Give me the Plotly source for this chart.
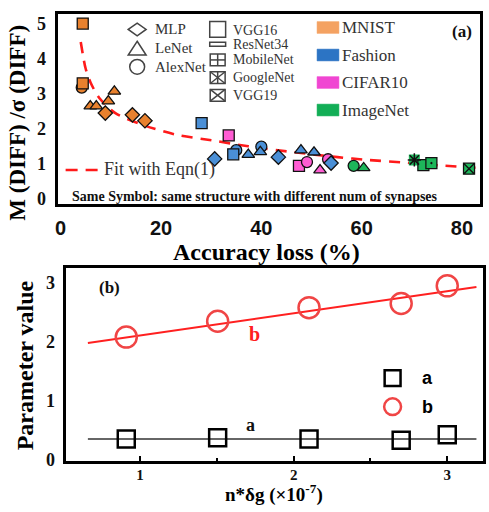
import plotly.graph_objects as go

# ---------------- data: panel (a) ----------------
sym_map = {'MLP': 'diamond', 'LeNet': 'triangle-up', 'AlexNet': 'circle', 'VGG16': 'square',
           'MobileNet': 'square-dot', 'VGG19': 'square-x', 'GoogleNet': 'square'}

mnist_arch = ['AlexNet', 'VGG16', 'VGG16', 'LeNet', 'LeNet', 'LeNet', 'LeNet', 'MLP', 'MLP', 'MLP']
mnist_x = [4.2, 4.4, 4.4, 5.9, 7.1, 9.5, 10.7, 8.9, 14.3, 16.8]
mnist_y = [3.17, 3.29, 5.0, 2.64, 2.64, 2.78, 3.06, 2.44, 2.39, 2.22]

cifar_arch = ['VGG16', 'VGG16', 'AlexNet', 'LeNet', 'AlexNet']
cifar_x = [33.5, 47.5, 49.1, 51.7, 53.3]
cifar_y = [1.80, 0.93, 1.04, 0.81, 1.12]

fashion_arch = ['VGG16', 'MLP', 'AlexNet', 'VGG16', 'LeNet', 'AlexNet', 'LeNet', 'MLP', 'LeNet', 'LeNet', 'MLP']
fashion_x = [28.1, 30.7, 35.0, 34.4, 37.4, 40.0, 39.8, 43.4, 47.9, 50.5, 53.9]
fashion_y = [2.15, 1.13, 1.38, 1.26, 1.25, 1.48, 1.33, 1.18, 1.38, 1.32, 1.01]

imagenet_arch = ['AlexNet', 'LeNet', 'GoogleNet', 'VGG16', 'MobileNet', 'VGG19']
imagenet_x = [58.4, 60.4, 70.5, 72.3, 73.9, 81.4]
imagenet_y = [0.93, 0.87, 1.10, 0.95, 1.01, 0.85]

fit_x = [4.0, 4.5, 5.0, 6.0, 7.7, 10.9, 16.2, 22.8, 30.1, 37.4, 46.5, 55.2, 61.2, 69.1, 74.0, 83.6]
fit_y = [4.47, 4.05, 3.70, 3.30, 2.87, 2.44, 2.11, 1.83, 1.66, 1.49, 1.32, 1.18, 1.10, 1.02, 0.96, 0.87]

x_ticks_a = [0, 20, 40, 60, 80]
y_ticks_a = [0, 1, 2, 3, 4, 5]

# ---------------- data: panel (b) ----------------
param_x = [0.91, 1.505, 2.10, 2.70, 3.0]
a_vals = [0.35, 0.37, 0.35, 0.33, 0.42]
b_vals = [2.08, 2.35, 2.58, 2.65, 2.95]
fitline_x = [0.66, 3.19]
a_fit = [0.35, 0.35]
b_fit = [1.98, 2.93]
x_ticks_b = [1, 2, 3]
y_ticks_b = [0, 1, 2, 3]

W, H = 489, 512
SERIF = 'Liberation Serif'
SANS = 'Liberation Sans'

colors = {'MNIST': '#E8812E', 'Fashion': '#4A8FD6', 'CIFAR10': '#FF5CD3', 'ImageNet': '#1DB65A'}
swatch = {'MNIST': '#F4A262', 'Fashion': '#2C74C4', 'CIFAR10': '#F046D2', 'ImageNet': '#12AE56'}


def PX(px):
    return px / W


def PY(py):
    return 1 - py / H


fig = go.Figure()

# fit curve
fig.add_trace(go.Scatter(x=fit_x, y=fit_y, mode='lines', line=dict(color='#FF1A1A', width=2.6, dash='11px,8px', shape='spline', smoothing=0.8),
                         xaxis='x', yaxis='y', showlegend=False, hoverinfo='skip'))

for name, arch, xs, ys in [('MNIST', mnist_arch, mnist_x, mnist_y), ('CIFAR10', cifar_arch, cifar_x, cifar_y),
                           ('Fashion', fashion_arch, fashion_x, fashion_y), ('ImageNet', imagenet_arch, imagenet_x, imagenet_y)]:
    lw = [0 if a == 'GoogleNet' else 1.3 for a in arch]
    fig.add_trace(go.Scatter(x=xs, y=ys, mode='markers', xaxis='x', yaxis='y', showlegend=False,
                             marker=dict(symbol=[sym_map[a] for a in arch], size=11, color=colors[name],
                                         line=dict(color='#111', width=lw))))
    g = [i for i, a in enumerate(arch) if a == 'GoogleNet']
    if g:
        fig.add_trace(go.Scatter(x=[xs[i] for i in g], y=[ys[i] for i in g], mode='markers', xaxis='x', yaxis='y',
                                 showlegend=False, marker=dict(symbol='asterisk-open', size=11, color='#111',
                                                               line=dict(color='#111', width=1.5))))

# panel (b)
fig.add_trace(go.Scatter(x=fitline_x, y=a_fit, mode='lines', line=dict(color='#333', width=1.6), xaxis='x2', yaxis='y2', showlegend=False))
fig.add_trace(go.Scatter(x=fitline_x, y=b_fit, mode='lines', line=dict(color='#FF2020', width=2), xaxis='x2', yaxis='y2', showlegend=False))
fig.add_trace(go.Scatter(x=param_x, y=a_vals, mode='markers', xaxis='x2', yaxis='y2', showlegend=False,
                         marker=dict(symbol='square-open', size=17, line=dict(color='#000', width=2.5), color='#000')))
fig.add_trace(go.Scatter(x=param_x, y=b_vals, mode='markers', xaxis='x2', yaxis='y2', showlegend=False,
                         marker=dict(symbol='circle-open', size=21, line=dict(color='#F04545', width=2.5), color='#F04545')))

shapes = []
ann = []


def rect(cx, cy, w, h, line='#444', lw=1.5, fill='rgba(0,0,0,0)'):
    shapes.append(dict(type='rect', xref='paper', yref='paper', x0=PX(cx - w / 2), x1=PX(cx + w / 2),
                       y0=PY(cy + h / 2), y1=PY(cy - h / 2), line=dict(color=line, width=lw), fillcolor=fill))


def path(pts, close=True, line='#444', lw=1.5):
    d = 'M ' + ' L '.join(f'{PX(x):.5f},{PY(y):.5f}' for x, y in pts)
    if close:
        d += ' Z'
    shapes.append(dict(type='path', xref='paper', yref='paper', path=d, line=dict(color=line, width=lw)))


def text(s, cx, cy, size, family=SERIF, color='#333', weight='normal', xanchor='left', angle=0):
    ann.append(dict(text=s, x=PX(cx), y=PY(cy), xref='paper', yref='paper', xanchor=xanchor, yanchor='middle',
                    showarrow=False, textangle=angle, font=dict(family=family, size=size, color=color, weight=weight)))


# symbol legend, column 1
path([(126, 30), (135, 23.5), (144, 30), (135, 36.5)])
path([(135, 42), (144, 56), (126, 56)])
shapes.append(dict(type='circle', xref='paper', yref='paper', x0=PX(127.5), x1=PX(142.5), y0=PY(75.5), y1=PY(60.5),
                   line=dict(color='#444', width=1.5)))
for s, y in [('MLP', 30), ('LeNet', 49), ('AlexNet', 68)]:
    text(s, 151, y, 15)
# column 2
rect(216, 30, 16, 16)
rect(216, 45, 16, 4)
rect(216, 61, 15, 12)
path([(208.5, 61), (223.5, 61)], close=False)
path([(216, 55), (216, 67)], close=False)
rect(216, 79, 15, 12)
path([(208.5, 73), (223.5, 85)], close=False)
path([(208.5, 85), (223.5, 73)], close=False)
path([(216, 73), (216, 85)], close=False)
rect(216, 97, 15, 12)
path([(208.5, 91), (223.5, 103)], close=False)
path([(208.5, 103), (223.5, 91)], close=False)
for s, y in [('VGG16', 31), ('ResNet34', 45.5), ('MobileNet', 61), ('GoogleNet', 79), ('VGG19', 97)]:
    text(s, 229, y, 14)
# colour legend
for name, y in [('MNIST', 28), ('Fashion', 56), ('CIFAR10', 84), ('ImageNet', 112)]:
    rect(327, y, 22, 12, line=swatch[name], lw=0.5, fill=swatch[name])
    text(name, 339, y, 17)
# fit legend
shapes.append(dict(type='line', xref='paper', yref='paper', x0=PX(63), x1=PX(96), y0=PY(173), y1=PY(173),
                   line=dict(color='#FF1A1A', width=2.6, dash='12px,8px')))
text('Fit with Eqn(1)', 100, 173, 18)
text('Same Symbol: same structure with different num of synapses', 254, 200, 14, color='#111', weight='bold', xanchor='center')
text('(a)', 462, 32, 17, color='#111', weight='bold', xanchor='center')

# panel (b) legend and labels
rect(392, 385, 16, 16, line='#000', lw=2.5)
shapes.append(dict(type='circle', xref='paper', yref='paper', x0=PX(383.5), x1=PX(400.5), y0=PY(422.5), y1=PY(405.5),
                   line=dict(color='#F04545', width=2.5)))
text('a', 427, 385, 18, family=SANS, color='#000', weight='bold', xanchor='center')
text('b', 427, 414, 18, family=SANS, color='#000', weight='bold', xanchor='center')
text('(b)', 107, 293, 17, color='#111', weight='bold', xanchor='center')
text('b', 253, 340, 20, color='#FF2020', weight='bold', xanchor='center')
text('a', 249, 433, 18, color='#111', weight='bold', xanchor='center')

# axis titles
text('Accuracy loss (%)', 265, 256, 24, color='#000', weight='bold', xanchor='center')
text('M (DIFF) /σ (DIFF)', 15, 125, 23, color='#000', weight='bold', xanchor='center', angle=-90)
text('Parameter value', 23, 372, 24, color='#000', weight='bold', xanchor='center', angle=-90)
text('n*δg (×10<sup>-7</sup>)', 273, 502, 19, color='#000', weight='bold', xanchor='center')

axis_common = dict(showline=True, mirror=True, linecolor='#000', linewidth=3, showgrid=False, zeroline=False)

fig.update_layout(
    width=W, height=H, margin=dict(l=0, r=0, t=0, b=0),
    paper_bgcolor='white', plot_bgcolor='white', showlegend=False,
    shapes=shapes, annotations=ann,
    xaxis=dict(domain=[PX(55), PX(480)], range=[-0.6, 83.6], tickvals=x_ticks_a, ticks='', ticklabelstandoff=4,
               tickfont=dict(family=SANS, size=20, color='#111', weight='bold'), anchor='y', **axis_common),
    yaxis=dict(domain=[PY(208), PY(14)], range=[-0.17, 5.28], tickvals=y_ticks_a, ticks='', ticklabelstandoff=5,
               tickfont=dict(family=SERIF, size=18, color='#111', weight='bold'), anchor='x', **axis_common),
    xaxis2=dict(domain=[PX(63), PX(483)], range=[0.515, 3.233], tickvals=x_ticks_b, ticks='inside', ticklen=5,
                tickwidth=2, tickcolor='#000', ticklabelstandoff=-2,
                minor=dict(dtick=0.5, ticks='inside', ticklen=3, tickcolor='#000'),
                tickfont=dict(family=SERIF, size=15, color='#111', weight='bold'), anchor='y2', **axis_common),
    yaxis2=dict(domain=[PY(469), PY(273)], range=[-0.02, 3.25], tickvals=y_ticks_b, ticks='', ticklabelstandoff=4,
                tickfont=dict(family=SERIF, size=18, color='#111', weight='bold'), anchor='x2', **axis_common),
)

fig.write_html('out.html')
